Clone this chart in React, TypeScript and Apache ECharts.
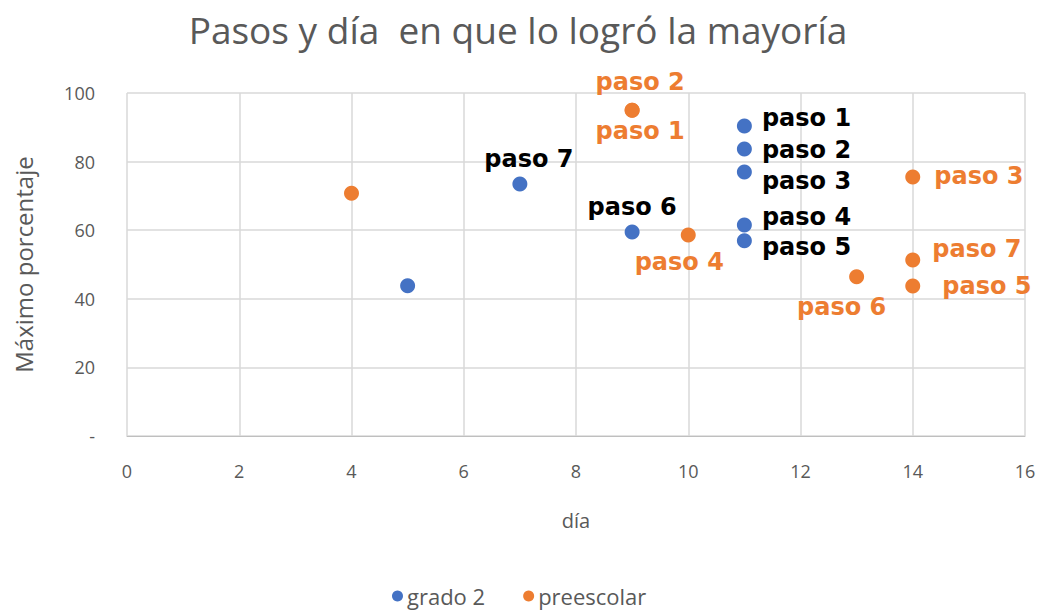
import React, { useEffect, useRef } from "react";
import * as echarts from "echarts";

const titleText = "Pasos y día  en que lo logró la mayoría";
const xTicks = [0, 2, 4, 6, 8, 10, 12, 14, 16];
const yTicks = [0, 20, 40, 60, 80, 100];

// grado 2: día, máximo porcentaje, etiqueta
const grado2Days = [5, 11, 11, 11, 11, 11, 9, 7];
const grado2Values = [43.8, 90.4, 83.7, 77.0, 61.5, 56.9, 59.5, 73.5];
const grado2Labels = ["", "paso 1", "paso 2", "paso 3", "paso 4", "paso 5", "paso 6", "paso 7"];

// preescolar
const preDays = [4, 9, 9, 14, 10, 14, 13, 14];
const preValues = [70.8, 95.0, 95.0, 75.5, 58.6, 43.7, 46.4, 51.3];
const preLabels = ["", "paso 1", "paso 2", "paso 3", "paso 4", "paso 5", "paso 6", "paso 7"];

const BLUE = "#4472C4";
const ORANGE = "#ED7D31";

const grado2Pos: [string, number[]][] = [
  ["right", [0, 0]],
  ["right", [5, -8]],
  ["right", [5, 1]],
  ["right", [5, 9]],
  ["right", [5, -8]],
  ["right", [5, 6]],
  ["top", [0, 0]],
  ["top", [9, 0]],
];
const prePos: [string, number[]][] = [
  ["right", [0, 0]],
  ["bottom", [8, -4]],
  ["top", [8, -4]],
  ["right", [9, -1]],
  ["bottom", [-9, 2]],
  ["right", [17, 0]],
  ["bottom", [-15, 6]],
  ["right", [7, -11]],
];

export default function App() {
  const ref = useRef<HTMLDivElement>(null);
  useEffect(() => {
    const chart = echarts.init(ref.current!, null, { renderer: "svg" });
    const labelFont = "DejaVu Sans, Liberation Sans, sans-serif";
    const g2Data = grado2Days.map((d, i) => ({
      value: [d, grado2Values[i]],
      label: {
        show: grado2Labels[i] !== "",
        formatter: grado2Labels[i],
        position: grado2Pos[i][0],
        offset: grado2Pos[i][1],
        color: "#000000",
        fontWeight: "bold",
        fontSize: 24,
        fontFamily: labelFont,
      },
    }));
    const preData = preDays.map((d, i) => ({
      value: [d, preValues[i]],
      label: {
        show: preLabels[i] !== "",
        formatter: preLabels[i],
        position: prePos[i][0],
        offset: prePos[i][1],
        color: ORANGE,
        fontWeight: "bold",
        fontSize: 24,
        fontFamily: labelFont,
      },
    }));
    chart.setOption({
      animation: false,
      backgroundColor: "#ffffff",
      title: {
        text: titleText,
        left: 513,
        textAlign: "center",
        top: 6,
        textStyle: {
          color: "#595959",
          fontSize: 37,
          fontWeight: "normal",
          fontFamily: "Open Sans, sans-serif",
        },
      },
      grid: { left: 127, right: 16, top: 93, bottom: 176 },
      legend: {
        bottom: 0,
        left: 387,
        itemWidth: 11,
        itemHeight: 11,
        itemGap: 38,
        icon: "circle",
        textStyle: { color: "#595959", fontSize: 22, fontFamily: "Open Sans, sans-serif", padding: [0, 0, 0, -1] },
        data: ["grado 2", "preescolar"],
      },
      xAxis: {
        type: "value",
        min: xTicks[0],
        max: xTicks[xTicks.length - 1],
        interval: 2,
        name: "día",
        nameLocation: "middle",
        nameGap: 74,
        nameTextStyle: { color: "#595959", fontSize: 20, fontFamily: "Open Sans, sans-serif" },
        axisLine: { show: true, lineStyle: { color: "#BFBFBF" } },
        axisTick: { show: false },
        axisLabel: { color: "#595959", fontSize: 18, margin: 26, fontFamily: "Open Sans, sans-serif" },
        splitLine: { show: true, lineStyle: { color: "#D9D9D9", width: 1.5 } },
      },
      yAxis: {
        type: "value",
        min: yTicks[0],
        max: yTicks[yTicks.length - 1],
        interval: 20,
        name: "Máximo porcentaje",
        nameLocation: "middle",
        nameGap: 92,
        nameTextStyle: { color: "#595959", fontSize: 24, fontFamily: "Open Sans, sans-serif" },
        axisLine: { show: false },
        axisTick: { show: false },
        axisLabel: {
          color: "#595959",
          fontSize: 18,
          margin: 32,
          fontFamily: "Open Sans, sans-serif",
          formatter: (v: number) => (v === 0 ? "-" : String(v)),
        },
        splitLine: { show: true, lineStyle: { color: "#D9D9D9", width: 1.5 } },
      },
      series: [
        {
          name: "grado 2",
          type: "scatter",
          symbolSize: 15,
          itemStyle: { color: BLUE, opacity: 1 },
          data: g2Data,
        },
        {
          name: "preescolar",
          type: "scatter",
          symbolSize: 15,
          itemStyle: { color: ORANGE, opacity: 1 },
          data: preData,
        },
      ],
    });
    return () => chart.dispose();
  }, []);
  return (
    <div
      ref={ref}
      style={{ position: "fixed", left: 0, top: 0, width: 1041, height: 612 }}
    />
  );
}
